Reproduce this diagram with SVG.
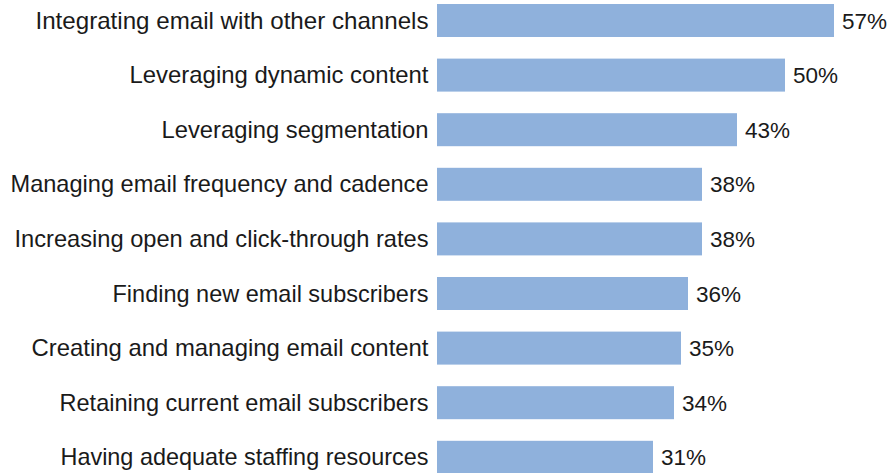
<svg xmlns="http://www.w3.org/2000/svg" width="887" height="473" viewBox="0 0 887 473">
<style>
.bar{fill:#8FB1DC}
.lbl{font-family:"Liberation Sans",Arial,sans-serif;font-size:24px;fill:#1a1a1a;text-anchor:end}
.val{font-family:"Liberation Sans",Arial,sans-serif;font-size:22.5px;fill:#1a1a1a}
</style>
<rect width="887" height="473" fill="#ffffff"/>
<g id="row1"><rect class="bar" x="437" y="4" width="397" height="33"/><text class="lbl" x="428.5" y="28.5" textLength="393" lengthAdjust="spacingAndGlyphs">Integrating email with other channels</text><text class="val" x="842" y="28.5">57%</text></g>
<g id="row2"><rect class="bar" x="437" y="58.6" width="348" height="33"/><text class="lbl" x="428.5" y="83.1" textLength="299" lengthAdjust="spacingAndGlyphs">Leveraging dynamic content</text><text class="val" x="793" y="83.1">50%</text></g>
<g id="row3"><rect class="bar" x="437" y="113.2" width="300" height="33"/><text class="lbl" x="428.5" y="137.7" textLength="267" lengthAdjust="spacingAndGlyphs">Leveraging segmentation</text><text class="val" x="745" y="137.7">43%</text></g>
<g id="row4"><rect class="bar" x="437" y="167.8" width="265" height="33"/><text class="lbl" x="428.5" y="192.3" textLength="418" lengthAdjust="spacingAndGlyphs">Managing email frequency and cadence</text><text class="val" x="710" y="192.3">38%</text></g>
<g id="row5"><rect class="bar" x="437" y="222.4" width="265" height="33"/><text class="lbl" x="428.5" y="246.9" textLength="414" lengthAdjust="spacingAndGlyphs">Increasing open and click-through rates</text><text class="val" x="710" y="246.9">38%</text></g>
<g id="row6"><rect class="bar" x="437" y="277" width="251" height="33"/><text class="lbl" x="428.5" y="301.5" textLength="316" lengthAdjust="spacingAndGlyphs">Finding new email subscribers</text><text class="val" x="696" y="301.5">36%</text></g>
<g id="row7"><rect class="bar" x="437" y="331.6" width="244" height="33"/><text class="lbl" x="428.5" y="356.1" textLength="397" lengthAdjust="spacingAndGlyphs">Creating and managing email content</text><text class="val" x="689" y="356.1">35%</text></g>
<g id="row8"><rect class="bar" x="437" y="386.2" width="237" height="33"/><text class="lbl" x="428.5" y="410.7" textLength="369" lengthAdjust="spacingAndGlyphs">Retaining current email subscribers</text><text class="val" x="682" y="410.7">34%</text></g>
<g id="row9"><rect class="bar" x="437" y="440.8" width="216" height="33"/><text class="lbl" x="428.5" y="465.3" textLength="368" lengthAdjust="spacingAndGlyphs">Having adequate staffing resources</text><text class="val" x="661" y="465.3">31%</text></g>
<g id="connectors"></g>
</svg>
